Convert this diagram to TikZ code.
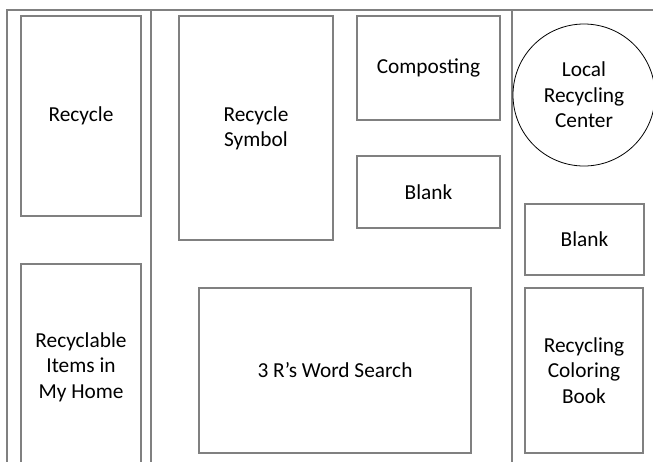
\documentclass[tikz,border=0pt]{standalone}
\usepackage{fontspec}
\setmainfont{Carlito}
\definecolor{framegray}{RGB}{128,128,128}

\begin{document}
\begin{tikzpicture}[line cap=rect,line join=miter,x=0.75pt,y=-0.75pt,
    panel/.style={draw=framegray,line width=1.5pt,rectangle,inner sep=0pt,align=center,
                  font=\fontsize{16}{19}\selectfont},
    spot/.style={draw=black,line width=0.6pt,circle,inner sep=0pt,align=center,
                  font=\fontsize{16}{19}\selectfont}]
  \clip (0,0) rectangle (653,461);
  % frame of the board
  \draw [framegray,line width=1.5pt] (7,461) -- (7,10) -- (653,10);
  \draw [framegray,line width=1.5pt] (151,10) -- (151,461);
  \draw [framegray,line width=1.5pt] (512,10) -- (512,461);
  % left column
  \node[panel,minimum width=90pt,minimum height=150pt] (recycle) at (81,116) {Recycle};
  \node[panel,minimum width=90pt,minimum height=154.5pt] (items) at (81,367) {Recyclable\\Items in\\My Home};
  % middle column
  \node[panel,minimum width=115.5pt,minimum height=168pt] (symbol) at (256,128) {Recycle\\Symbol};
  \node[panel,minimum width=107.25pt,minimum height=78pt] (compost) at (428.5,68) {Composting};
  \node[panel,minimum width=107.25pt,minimum height=54pt] (blankmid) at (428.5,192) {Blank};
  \node[panel,minimum width=204pt,minimum height=123.75pt] (wordsearch) at (335,370.5) {3 R’s Word Search};
  % right column
  \node[spot,minimum size=106.5pt] (center) at (584,95) {Local\\Recycling\\Center};
  \node[panel,minimum width=89.25pt,minimum height=53.25pt] (blankright) at (584.5,239.5) {Blank};
  \node[panel,minimum width=88.5pt,minimum height=123.75pt] (coloring) at (584,370.5) {Recycling\\Coloring\\Book};
\end{tikzpicture}
\end{document}
